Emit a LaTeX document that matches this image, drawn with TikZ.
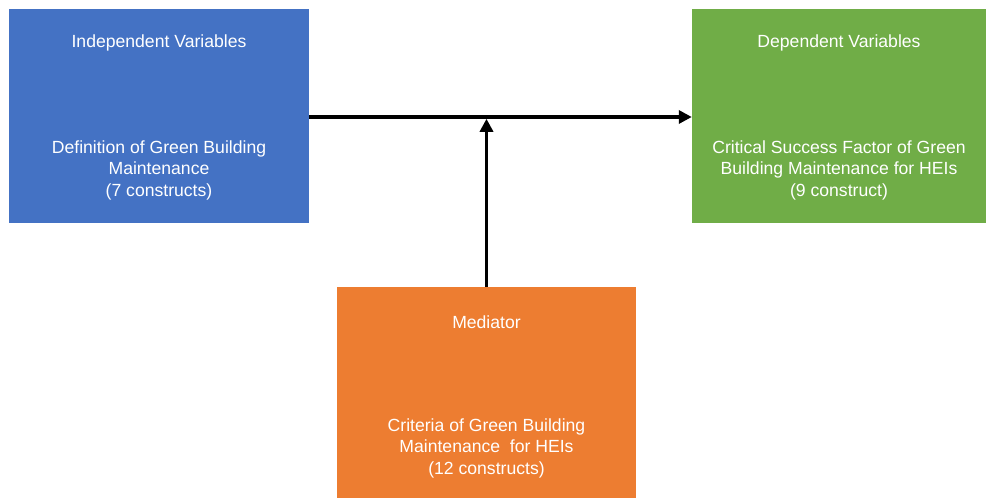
\documentclass[tikz,border=0pt]{standalone}
\usepackage{fontspec}
\setmainfont{Liberation Sans}
\usetikzlibrary{arrows.meta}
\definecolor{cblue}{HTML}{4472C4}
\definecolor{cgreen}{HTML}{70AD47}
\definecolor{corange}{HTML}{ED7D31}
\tikzset{
  boxtext/.style={text=white, align=center, inner sep=0pt, font=\fontsize{17.6}{21.5}\selectfont},
  link/.style={line width=3.6pt, -{Triangle[length=13pt,width=13pt]}}
}
\begin{document}
\begin{tikzpicture}[x=1pt,y=1pt]
\useasboundingbox (0,0) rectangle (986,498);
% boxes
\node[fill=cblue, minimum width=300pt, minimum height=214pt, inner sep=0pt] (ind) at (159,382) {};
\node[fill=cgreen, minimum width=294pt, minimum height=214pt, inner sep=0pt] (dep) at (839,382) {};
\node[fill=corange, minimum width=299pt, minimum height=211pt, inner sep=0pt] (med) at (486.5,105.5) {};
% texts
\node[boxtext] (indt) at (159,455) {Independent Variables};
\node[boxtext] (indb) at (159,328) {Definition of Green Building\\Maintenance\\(7 constructs)};
\node[boxtext] (dept) at (839,455) {Dependent Variables};
\node[boxtext] (depb) at (839,328) {Critical Success Factor of Green\\Building Maintenance for HEIs\\(9 construct)};
\node[boxtext] (medt) at (486.5,176) {Mediator};
\node[boxtext] (medb) at (486.5,50) {Criteria of Green Building\\Maintenance~ for HEIs\\(12 constructs)};
% connectors
\coordinate (hl) at (486.5,381);
\draw[link] (ind.east |- hl) -- (dep.west |- hl);
\draw[link] (med.north) -- ([yshift=-1.8pt]hl);
\end{tikzpicture}
\end{document}
